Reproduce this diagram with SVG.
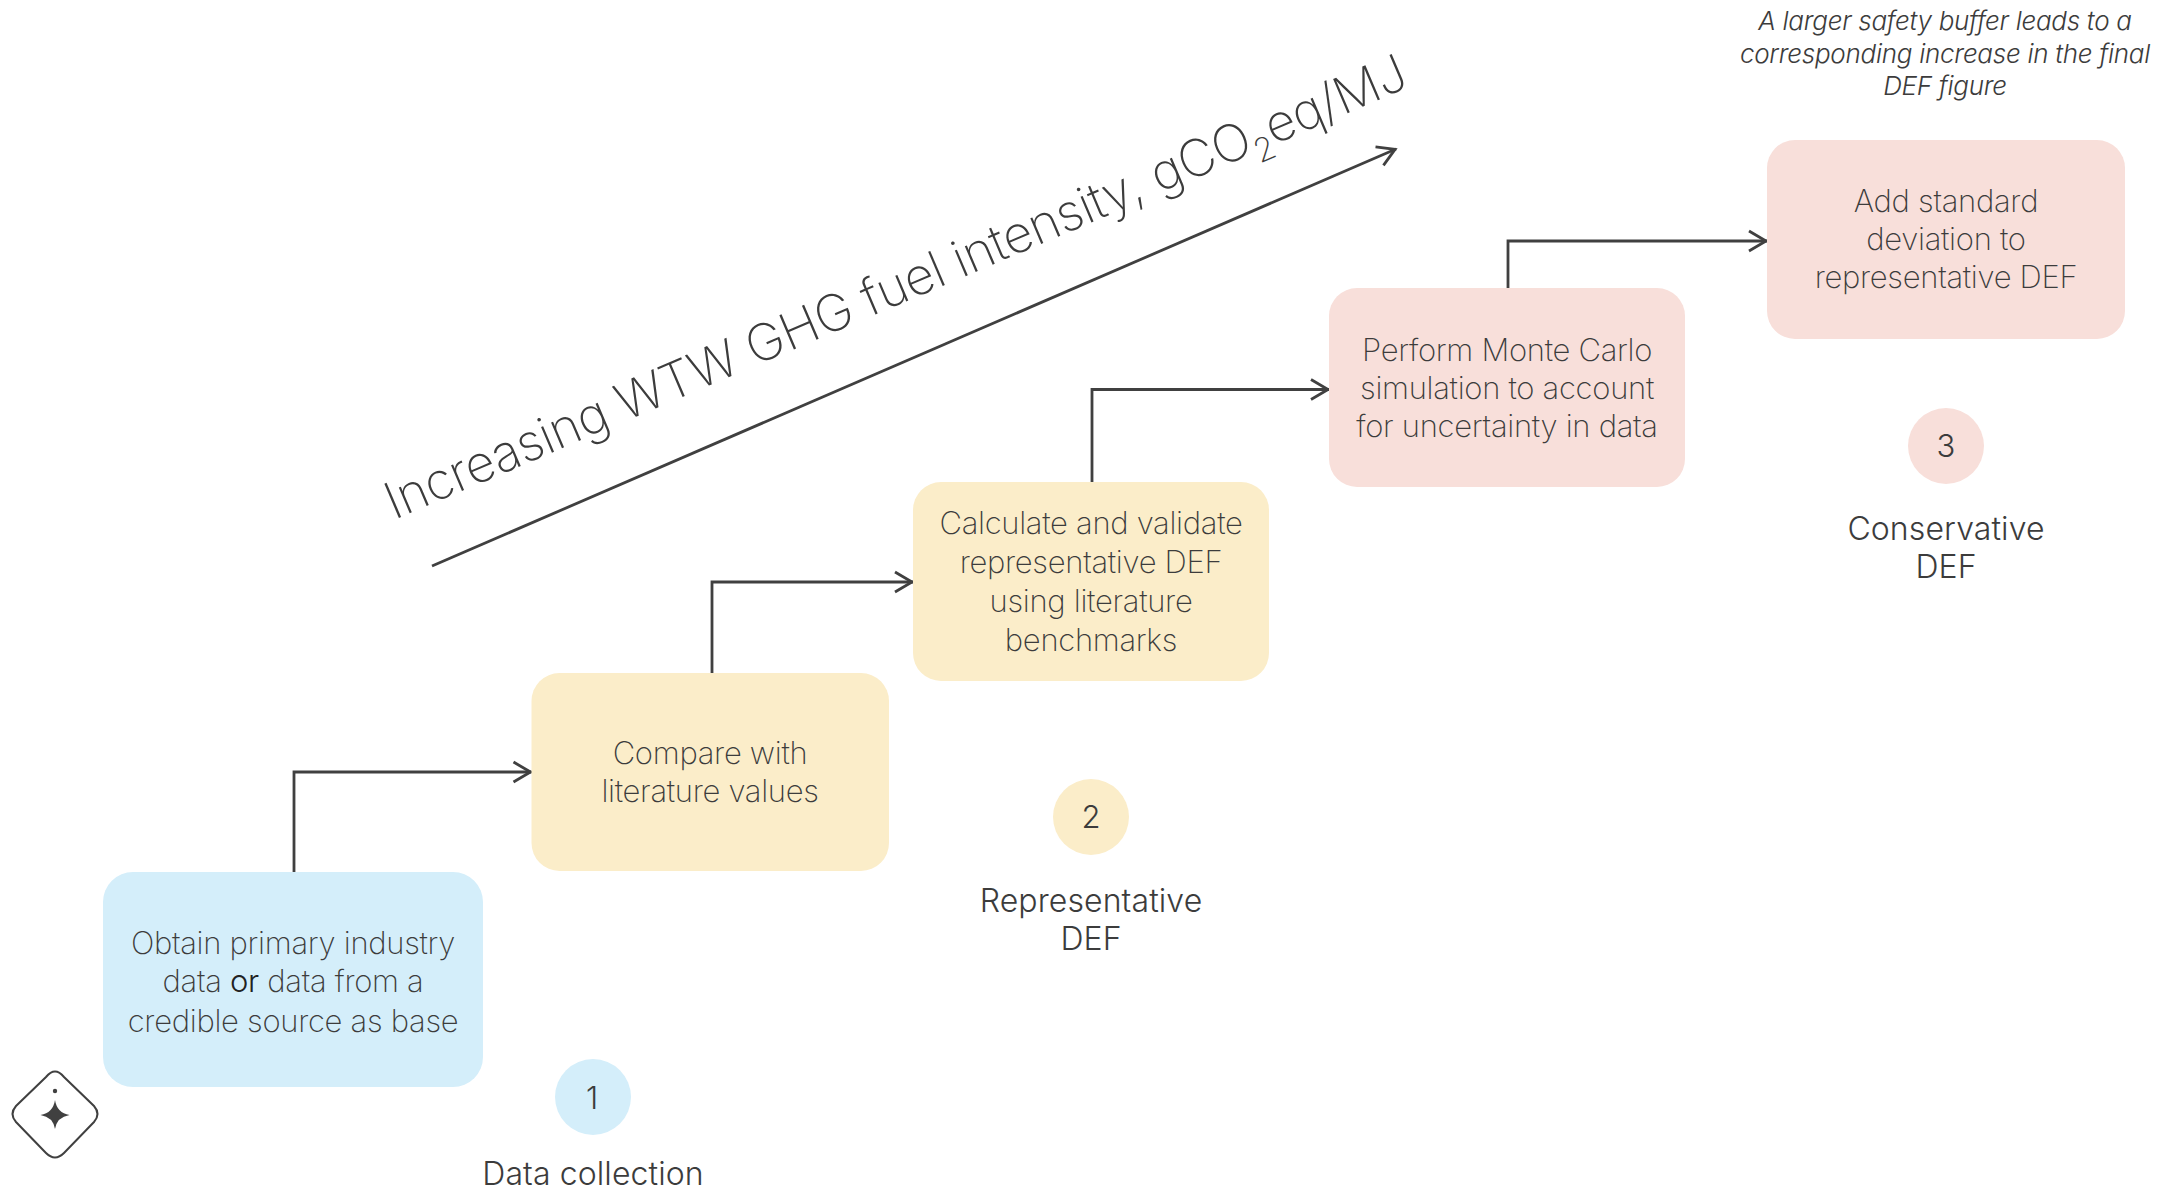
<svg xmlns="http://www.w3.org/2000/svg" width="2166" height="1189" viewBox="0 0 2166 1189">
<style>
text{font-family:Inter,"Liberation Sans",sans-serif;text-anchor:middle;fill:#3c3c3c}
.b{font-size:31px;font-weight:200;letter-spacing:-.3px}
.l{font-size:32px;font-weight:350;letter-spacing:.1px}
.n{font-size:31px;font-weight:300}
.i{font-size:26px;font-weight:300;font-style:italic;letter-spacing:-.28px}
.c{fill:none;stroke:#404040;stroke-width:2.8}
.blue{fill:#d4eefa}.yellow{fill:#fbedc9}.pink{fill:#f8dfda}
</style>
<defs>
<marker id="a" markerUnits="userSpaceOnUse" markerWidth="30" markerHeight="30" refX="21" refY="15" orient="auto"><path d="M3 5L20 15L3 25" fill="none" stroke="#404040" stroke-width="2.8"/></marker>
</defs>
<g id="connectors">
<path class="c" marker-end="url(#a)" d="M294 873V772H531.500"/>
<path class="c" marker-end="url(#a)" d="M712 673V582H913"/>
<path class="c" marker-end="url(#a)" d="M1092 482V389.500H1329"/>
<path class="c" marker-end="url(#a)" d="M1508 288V241H1767"/>
<path class="c" marker-end="url(#a)" d="M432 566L1396 149"/>
</g>
<g id="axis-label"><text transform="translate(394 520) rotate(-23.1)" style="text-anchor:start;font-size:51px;font-weight:200;letter-spacing:-.47px">Increasing WTW GHG fuel intensity, gCO<tspan dy="12" font-size="33">2</tspan><tspan dy="-12">eq/MJ</tspan></text></g>
<g id="node-1"><rect class="blue" x="103" y="872" width="380" height="215" rx="30"/><text class="b" x="293"><tspan x="293" y="954">Obtain primary industry</tspan><tspan x="293" y="992">data <tspan font-weight="300" fill="#222">or</tspan> data from a</tspan><tspan x="293" y="1032">credible source as base</tspan></text></g>
<g id="node-2"><rect class="yellow" x="531.500" y="673" width="357.500" height="198" rx="28"/><text class="b"><tspan x="710" y="764">Compare with</tspan><tspan x="710" y="802">literature values</tspan></text></g>
<g id="node-3"><rect class="yellow" x="913" y="482" width="356" height="199" rx="28"/><text class="b"><tspan x="1091" y="534">Calculate and validate</tspan><tspan x="1091" y="573">representative DEF</tspan><tspan x="1091" y="612">using literature</tspan><tspan x="1091" y="651">benchmarks</tspan></text></g>
<g id="node-4"><rect class="pink" x="1329" y="288" width="356" height="199" rx="28"/><text class="b"><tspan x="1507" y="361">Perform Monte Carlo</tspan><tspan x="1507" y="399">simulation to account</tspan><tspan x="1507" y="437">for uncertainty in data</tspan></text></g>
<g id="node-5"><rect class="pink" x="1767" y="140" width="358" height="199" rx="28"/><text class="b"><tspan x="1946" y="212">Add standard</tspan><tspan x="1946" y="250">deviation to</tspan><tspan x="1946" y="288">representative DEF</tspan></text></g>
<g id="step-1"><circle class="blue" cx="593" cy="1097" r="38"/><text class="n" x="592" y="1109">1</text><text class="l" x="593" y="1185">Data collection</text></g>
<g id="step-2"><circle class="yellow" cx="1091" cy="817" r="38"/><text class="n" x="1091" y="828">2</text><text class="l"><tspan x="1091" y="912">Representative</tspan><tspan x="1091" y="950">DEF</tspan></text></g>
<g id="step-3"><circle class="pink" cx="1946" cy="446" r="38"/><text class="n" x="1946" y="457">3</text><text class="l"><tspan x="1946" y="540">Conservative</tspan><tspan x="1946" y="578">DEF</tspan></text></g>
<g id="note"><text class="i"><tspan x="1945" y="30">A larger safety buffer leads to a</tspan><tspan x="1945" y="63">corresponding increase in the final</tspan><tspan x="1945" y="95">DEF figure</tspan></text></g>
<g id="icon"><path d="M46 1077Q55 1066 64 1077L94 1106Q101 1114 94 1122L64 1153Q55 1162 46 1153L16 1122Q9 1114 16 1106Z" fill="none" stroke="#404040" stroke-width="2"/><circle cx="55" cy="1091" r="2.200" fill="#404040"/><path d="M55 1100Q57 1113 69.500 1115Q57 1117 55 1129Q53 1117 40.500 1115Q53 1113 55 1100Z" fill="#404040"/></g>
</svg>
